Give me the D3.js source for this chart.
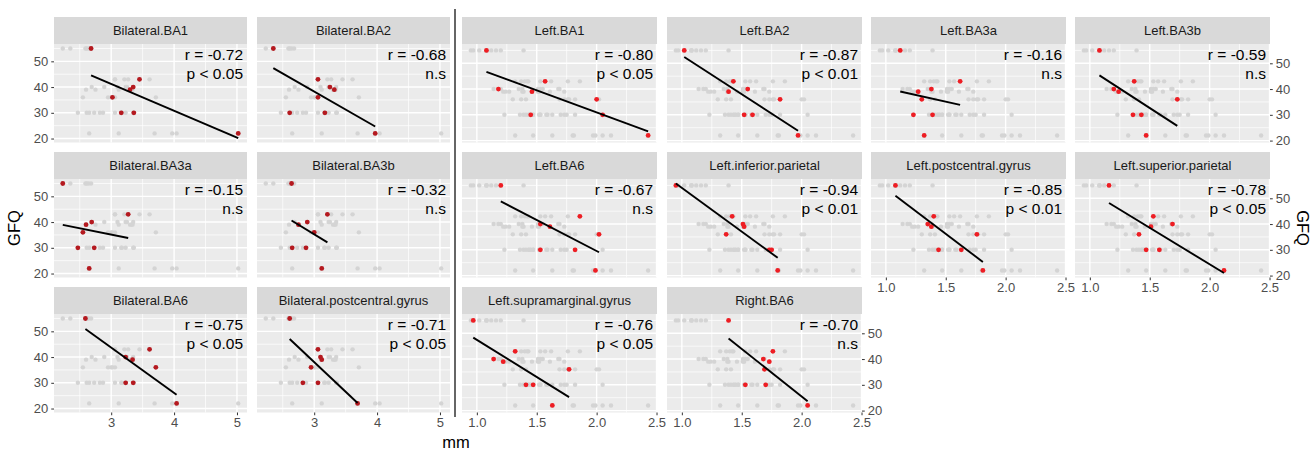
<!DOCTYPE html>
<html>
<head>
<meta charset="utf-8">
<script src="https://cdn.jsdelivr.net/npm/d3@7"></script>
<style>
  body { margin: 0; background: #fff; }
  svg { font-family: "Liberation Sans", Arial, sans-serif; }
</style>
</head>
<body>
<svg id="chart" width="1311" height="452"></svg>
<script>
// GFQ score of the 8 subjects (same order in every mm array)
const gfq = [55, 43, 40, 39, 36, 30, 30, 22];

const bilateralRegions = ['Bilateral.BA1', 'Bilateral.BA2', 'Bilateral.BA3a',
  'Bilateral.BA3b', 'Bilateral.BA6', 'Bilateral.postcentral.gyrus'];
const bilateralMm = [
  [2.68, 3.45, 3.35, 3.30, 3.02, 3.16, 3.36, 5.02],
  [2.35, 3.06, 3.25, 3.32, 3.06, 2.61, 3.17, 3.97],
  [2.23, 3.27, 2.69, 2.60, 2.55, 2.47, 2.73, 2.65],
  [2.64, 3.21, 2.89, 2.75, 3.00, 2.65, 2.87, 3.12],
  [2.59, 3.61, 3.23, 3.34, 3.71, 3.23, 3.35, 4.04],
  [2.61, 3.06, 3.10, 3.12, 2.95, 2.82, 3.06, 3.69]
];
const bilateralR = ['r = -0.72', 'r = -0.68', 'r = -0.15', 'r = -0.32', 'r = -0.75', 'r = -0.71'];
const bilateralP = ['p < 0.05', 'n.s', 'n.s', 'n.s', 'p < 0.05', 'p < 0.05'];

const leftRegions = ['Left.BA1', 'Left.BA2', 'Left.BA3a', 'Left.BA3b', 'Left.BA6',
  'Left.inferior.parietal', 'Left.postcentral.gyrus', 'Left.superior.parietal',
  'Left.supramarginal.gyrus', 'Right.BA6'];
const leftMm = [
  [1.08, 1.57, 1.18, 1.46, 2.00, 1.45, 2.05, 2.43],
  [1.02, 1.43, 1.55, 1.39, 1.82, 1.52, 1.59, 1.97],
  [1.12, 1.62, 1.38, 1.27, 1.30, 1.23, 1.39, 1.32],
  [1.08, 1.37, 1.20, 1.24, 1.73, 1.36, 1.43, 1.47],
  [1.20, 1.86, 1.53, 1.61, 2.02, 1.53, 1.82, 1.99],
  [0.95, 1.42, 1.51, 1.52, 1.37, 1.73, 1.75, 1.80],
  [1.08, 1.40, 1.35, 1.38, 1.76, 1.44, 1.63, 1.81],
  [1.16, 1.53, 1.69, 1.51, 1.41, 1.47, 1.58, 2.12],
  [0.97, 1.32, 1.14, 1.22, 1.77, 1.41, 1.47, 1.63],
  [1.39, 1.76, 1.68, 1.73, 1.69, 1.53, 1.70, 2.05]
];
const leftR = ['r = -0.80', 'r = -0.87', 'r = -0.16', 'r = -0.59', 'r = -0.67',
  'r = -0.94', 'r = -0.85', 'r = -0.78', 'r = -0.76', 'r = -0.70'];
const leftP = ['p < 0.05', 'p < 0.01', 'n.s', 'n.s', 'n.s',
  'p < 0.01', 'p < 0.01', 'p < 0.05', 'p < 0.05', 'n.s'];

const yTicks = [20, 30, 40, 50];
const bilateralXTicks = [3, 4, 5];
const leftXTicks = [1.0, 1.5, 2.0, 2.5];

// layout
const rowTop = [17, 152, 287];
const stripH = 27;
const plotH = 98.5;

const svg = d3.select('#chart');

// least squares line over the range of x
function fitLine(xs, ys) {
  const mx = d3.mean(xs), my = d3.mean(ys);
  let sxy = 0, sxx = 0;
  xs.forEach((x, i) => { sxy += (x - mx) * (ys[i] - my); sxx += (x - mx) * (x - mx); });
  const b = sxy / sxx, a = my - b * mx;
  const ext = d3.extent(xs);
  return ext.map(x => [x, a + b * x]);
}

function expand(ext) {
  const pad = (ext[1] - ext[0]) * 0.05;
  return [ext[0] - pad, ext[1] + pad];
}

function minorBreaks(ticks, domain) {
  const step = ticks[1] - ticks[0];
  const out = [];
  for (let t = ticks[0] - step / 2; t <= domain[1]; t += step) {
    if (t >= domain[0]) out.push(t);
  }
  return out;
}

function styleAxis(g) {
  g.select('.domain').remove();
  g.selectAll('.tick line').attr('stroke', '#333333');
  g.selectAll('.tick text').attr('fill', '#4D4D4D').attr('font-size', 13)
    .attr('font-family', '"Liberation Sans", Arial, sans-serif');
}

function drawGrid(cfg) {
  const { regions, mm, rText, pText, ncol, colX, panelW, xTicks, xFormat, yAxisRight, pointColor } = cfg;

  const lines = mm.map(xs => fitLine(xs, gfq));
  const xDomain = expand(d3.extent(mm.flat()));
  const yDomain = expand(d3.extent(gfq.concat(lines.flat().map(d => d[1]))));

  const x = d3.scaleLinear().domain(xDomain).range([0, panelW]);
  const y = d3.scaleLinear().domain(yDomain).range([plotH, 0]);

  const allPts = mm.flatMap(xs => xs.map((v, i) => [v, gfq[i]]));
  const xMinor = minorBreaks(xTicks, xDomain);
  const yMinor = minorBreaks(yTicks, yDomain);

  const nrow = Math.ceil(regions.length / ncol);

  regions.forEach((name, i) => {
    const row = Math.floor(i / ncol), col = i % ncol;
    const g = svg.append('g')
      .attr('transform', 'translate(' + colX[col] + ',' + (rowTop[row] + stripH) + ')');

    // strip
    g.append('rect').attr('x', 0).attr('y', -stripH).attr('width', panelW).attr('height', stripH)
      .attr('fill', '#D9D9D9');
    g.append('text').attr('x', panelW / 2).attr('y', -stripH / 2 + 4.5)
      .attr('text-anchor', 'middle').attr('font-size', 13).attr('fill', '#1A1A1A').text(name);

    // panel
    g.append('rect').attr('width', panelW).attr('height', plotH).attr('fill', '#EBEBEB');

    g.selectAll('.vminor').data(xMinor).enter().append('line')
      .attr('x1', d => x(d)).attr('x2', d => x(d)).attr('y1', 0).attr('y2', plotH)
      .attr('stroke', '#fff').attr('stroke-width', 0.7);
    g.selectAll('.hminor').data(yMinor).enter().append('line')
      .attr('y1', d => y(d)).attr('y2', d => y(d)).attr('x1', 0).attr('x2', panelW)
      .attr('stroke', '#fff').attr('stroke-width', 0.7);
    g.selectAll('.vmajor').data(xTicks).enter().append('line')
      .attr('x1', d => x(d)).attr('x2', d => x(d)).attr('y1', 0).attr('y2', plotH)
      .attr('stroke', '#fff').attr('stroke-width', 1.4);
    g.selectAll('.hmajor').data(yTicks).enter().append('line')
      .attr('y1', d => y(d)).attr('y2', d => y(d)).attr('x1', 0).attr('x2', panelW)
      .attr('stroke', '#fff').attr('stroke-width', 1.4);

    // all subjects/regions of this group in grey
    g.selectAll('.bg').data(allPts).enter().append('circle')
      .attr('cx', d => x(d[0])).attr('cy', d => y(d[1])).attr('r', 2.2)
      .attr('fill', '#D4D4D4');

    // this region
    g.selectAll('.pt').data(mm[i].map((v, k) => [v, gfq[k]])).enter().append('circle')
      .attr('cx', d => x(d[0])).attr('cy', d => y(d[1])).attr('r', 2.4)
      .attr('fill', pointColor);

    g.append('path').datum(lines[i])
      .attr('d', d3.line().x(d => x(d[0])).y(d => y(d[1])))
      .attr('stroke', '#000').attr('stroke-width', 1.9).attr('fill', 'none');

    g.append('text').attr('x', panelW - 4).attr('y', 15.5).attr('text-anchor', 'end')
      .attr('font-size', 15.5).attr('fill', '#000').text(rText[i]);
    g.append('text').attr('x', panelW - 4).attr('y', 35).attr('text-anchor', 'end')
      .attr('font-size', 15.5).attr('fill', '#000').text(pText[i]);

    // y axis: first (left) or last (right) panel of each row
    const lastInRow = (col === ncol - 1) || (i === regions.length - 1);
    if (!yAxisRight && col === 0) {
      g.append('g').call(d3.axisLeft(y).tickValues(yTicks).tickSize(2.75).tickPadding(3))
        .call(styleAxis);
    }
    if (yAxisRight && lastInRow) {
      g.append('g').attr('transform', 'translate(' + panelW + ',0)')
        .call(d3.axisRight(y).tickValues(yTicks).tickSize(2.75).tickPadding(3))
        .call(styleAxis);
    }

    // x axis under the lowest panel of each column
    const below = i + ncol;
    if (row === nrow - 1 || below >= regions.length) {
      g.append('g').attr('transform', 'translate(0,' + plotH + ')')
        .call(d3.axisBottom(x).tickValues(xTicks).tickFormat(d3.format(xFormat))
          .tickSize(2.75).tickPadding(3))
        .call(styleAxis);
    }
  });
}

drawGrid({
  regions: bilateralRegions, mm: bilateralMm, rText: bilateralR, pText: bilateralP,
  ncol: 2, colX: [54, 257], panelW: 193, xTicks: bilateralXTicks, xFormat: 'd',
  yAxisRight: false, pointColor: '#B5191F'
});

drawGrid({
  regions: leftRegions, mm: leftMm, rText: leftR, pText: leftP,
  ncol: 4, colX: [462, 667, 871, 1075], panelW: 195, xTicks: leftXTicks, xFormat: '.1f',
  yAxisRight: true, pointColor: '#EE1D23'
});

// separator between the two grids
svg.append('line').attr('x1', 455).attr('x2', 455).attr('y1', 9).attr('y2', 417)
  .attr('stroke', '#333').attr('stroke-width', 1.5);

// axis titles
svg.append('text').attr('transform', 'translate(20,228) rotate(-90)')
  .attr('text-anchor', 'middle').attr('font-size', 16.5).attr('fill', '#000').text('GFQ');
svg.append('text').attr('transform', 'translate(1297,228) rotate(90)')
  .attr('text-anchor', 'middle').attr('font-size', 16.5).attr('fill', '#000').text('GFQ');
svg.append('text').attr('x', 456).attr('y', 448)
  .attr('text-anchor', 'middle').attr('font-size', 16.5).attr('fill', '#000').text('mm');
</script>
</body>
</html>
